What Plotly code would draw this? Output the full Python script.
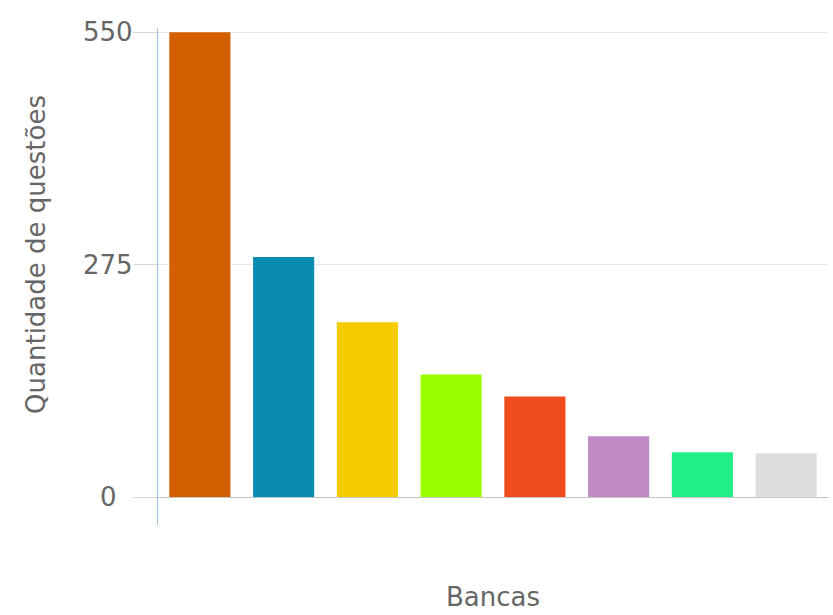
import plotly.graph_objects as go

# Questions per exam board
bancas = ["Banca 1", "Banca 2", "Banca 3", "Banca 4", "Banca 5", "Banca 6", "Banca 7", "Banca 8"]
questoes = [550, 284, 207, 145, 119, 72, 53, 52]
cores = ["#D35F00", "#0A8BB0", "#F5CC00", "#99FF00", "#F04B1C", "#BF8AC6", "#22EE88", "#DDDDDD"]

tick_vals = [0, 275, 550]
tick_text = ["0", "275", "550"]

FONT = "DejaVu Sans"
GRAY = "#666666"

fig = go.Figure(
    go.Bar(
        x=bancas,
        y=questoes,
        marker=dict(color=cores, line=dict(width=0)),
        showlegend=False,
    )
)

fig.update_layout(
    width=833,
    height=615,
    margin=dict(l=158, r=5, t=28, b=90),
    paper_bgcolor="white",
    plot_bgcolor="white",
    bargap=0.27,
    font=dict(family=FONT, color=GRAY),
    xaxis=dict(showticklabels=False, showgrid=False, zeroline=False, showline=False, ticks=""),
    yaxis=dict(
        range=[-33, 555],
        tickvals=tick_vals,
        showticklabels=False,
        ticks="outside",
        ticklen=24,
        tickcolor="#d6d6d6",
        showgrid=True,
        gridcolor="#e8e8e8",
        gridwidth=1,
        zeroline=True,
        zerolinecolor="#c4c4c4",
        zerolinewidth=1,
        showline=True,
        linecolor="#9dbfe4",
        linewidth=1,
    ),
)

# Centred tick labels on the value axis
for v, t in zip(tick_vals, tick_text):
    fig.add_annotation(
        x=-0.074, xref="paper", y=v, yref="y",
        text=t, showarrow=False, xanchor="center", yanchor="middle",
        font=dict(family=FONT, size=26, color=GRAY),
    )

# Axis titles
fig.add_annotation(
    x=-0.183, xref="paper", y=287, yref="y",
    text="Quantidade de questões", textangle=-90, showarrow=False,
    xanchor="center", yanchor="middle",
    font=dict(family=FONT, size=26, color=GRAY),
)
fig.add_annotation(
    x=0.5, xref="paper", y=-0.145, yref="paper",
    text="Bancas", showarrow=False, xanchor="center", yanchor="middle",
    font=dict(family=FONT, size=26, color=GRAY),
)

fig.write_html("out.html")
